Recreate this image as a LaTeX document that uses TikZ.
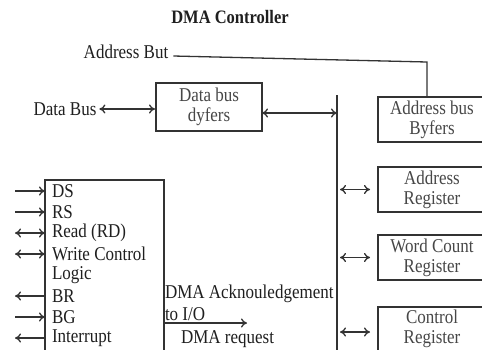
\documentclass[tikz,border=0pt]{standalone}
\usepackage{fontspec}
\setmainfont{Liberation Serif}
\usetikzlibrary{arrows.meta}
\newcommand{\tl}[1]{\scalebox{1}[1.15]{#1}}
\begin{document}
\begin{tikzpicture}[x=1pt,y=-1pt,
  every node/.style={inner sep=0pt,outer sep=0pt,font=\fontsize{17}{20}\selectfont,text=black!88},
  wire/.style={draw=black!80,line width=1.3pt},
  arr/.style={wire,-{To[length=6pt,width=9pt]}},
  darr/.style={wire,{To[length=6pt,width=9pt]}-{To[length=6pt,width=9pt]}},
  blk/.style={draw=black!80,line width=1.2pt,align=center,text=black!72,minimum width=#1},
  lbl/.style={anchor=west},
]
\clip (0,0) rectangle (482,349);
\fill[white] (0,0) rectangle (482,349);

% heading
\node[font=\fontsize{16.5}{20}\selectfont\bfseries] (title) at (230,17) {\tl{DMA Controller}};

% address bus line
\node (ab) at (126,52) {\tl{Address But}};
\coordinate (cor) at (427,62);

% data bus buffer
\node (dbus) at (65,109) {\tl{Data Bus}};
\node[blk=106pt,minimum height=48pt] (databuf) at (209,107) {\tl{Data bus}\\\tl{dyfers}};

% internal bus
\coordinate (busTop) at (337,95);
\coordinate (busBot) at (337,360);
\draw[wire] (busTop) -- (busBot);

% register column
\node[blk=108pt,minimum height=45pt] (abuf) at (432,119.5) {\tl{Address bus}\\\tl{Byfers}};
\node[blk=108pt,minimum height=45pt] (areg) at (432,189.5) {\tl{Address}\\\tl{Register}};
\node[blk=108pt,minimum height=45pt] (wreg) at (432,257.5) {\tl{Word Count}\\\tl{Register}};
\node[blk=108pt,minimum height=44pt] (creg) at (432,329) {\tl{Control}\\\tl{Register}};

% control logic block
\node[draw=black!80,line width=1.2pt,minimum width=119pt,minimum height=180pt] (lbox) at (104.5,270) {};
\coordinate (inL) at (15,0);
\node[lbl] (ds) at (52,191) {\tl{DS}};
\node[lbl] (rs) at (52,212) {\tl{RS}};
\node[lbl] (rd) at (52,233) {\tl{Read (RD)}};
\node[lbl] (wr) at (52,254) {\tl{Write Control}};
\node[lbl] (lg) at (52,275) {\tl{Logic}};
\node[lbl] (br) at (52,296) {\tl{BR}};
\node[lbl] (bg) at (52,317) {\tl{BG}};
\node[lbl] (irq) at (52,338) {\tl{Interrupt}};

% outputs of the logic block
\node[lbl] (ack) at (165,294) {\tl{DMA Acknouledgement}};
\node[lbl] (toio) at (165,314) {\tl{to I/O}};
\node[lbl] (req) at (181,339) {\tl{DMA request}};
\coordinate (ackEnd) at (247,323);
\coordinate (reqStart) at (245,355);

% connectors
\draw[wire] ([xshift=5pt,yshift=-4pt]ab.east) -- (cor) -- (cor |- abuf.north);
\draw[darr,shorten <=3pt,shorten >=1pt] (dbus.east) -- (dbus.east -| databuf.west);
\draw[darr] ([yshift=-6pt]databuf.east) -- ([yshift=-6pt]databuf.east -| busTop);
\draw[darr,shorten <=3pt,shorten >=8pt] (areg.west -| busTop) -- (areg.west);
\draw[darr,shorten <=3pt,shorten >=8pt] (wreg.west -| busTop) -- (wreg.west);
\draw[darr,shorten <=3pt,shorten >=8pt] ([yshift=-3pt]creg.west -| busTop) -- ([yshift=-3pt]creg.west);

\draw[arr] (ds -| inL) -- (ds -| lbox.west);
\draw[arr] (rs -| inL) -- (rs -| lbox.west);
\draw[darr] (rd -| inL) -- (rd -| lbox.west);
\draw[darr] (wr -| inL) -- (wr -| lbox.west);
\draw[arr] (br -| lbox.west) -- (br -| inL);
\draw[arr] (bg -| inL) -- (bg -| lbox.west);
\draw[arr] (irq -| lbox.west) -- (irq -| inL);

\draw[arr] (lbox.east |- ackEnd) -- (ackEnd);
\draw[arr,shorten >=3pt] (reqStart) -- (lbox.east |- reqStart);
\end{tikzpicture}
\end{document}
